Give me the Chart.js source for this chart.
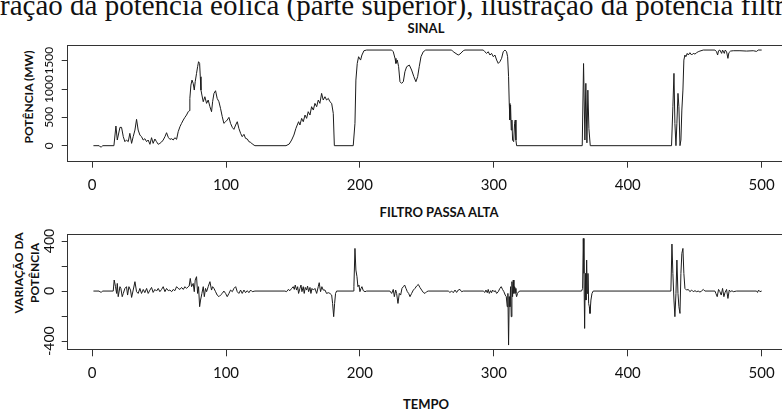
<!DOCTYPE html>
<html>
<head>
<meta charset="utf-8">
<script src="https://cdn.jsdelivr.net/npm/chart.js@4.4.0/dist/chart.umd.min.js"></script>
<style>
  html, body { margin: 0; padding: 0; background: #fff; }
  body { width: 782px; height: 410px; overflow: hidden; position: relative; font-family: Lato, sans-serif; color: #111; }
  .txt { position: absolute; white-space: nowrap; }
  .ttl { font-weight: bold; font-size: 13px; transform: translate(-50%, -50%); }
  .ylab { font-weight: bold; font-size: 12px; transform: translate(-50%, -50%) rotate(-90deg); }
  canvas { position: absolute; left: 0; }
</style>
</head>
<body>
<div class="txt" style="left:0px; top:-9.5px; font-family:'Liberation Serif', serif; font-size:29px; line-height:29px;">ração da potência eólica (parte superior), ilustração da potência filtrada</div>
<div class="txt ttl" style="left:426px; top:28px;">SINAL</div>
<div class="txt ttl" style="left:439px; top:212px;">FILTRO PASSA ALTA</div>
<div class="txt ttl" style="left:426px; top:404px;">TEMPO</div>
<div class="txt ylab" style="left:27.5px; top:97px;">POTÊNCIA (MW)</div>
<div class="txt ylab" style="left:17.5px; top:273px;">VARIAÇÃO DA</div>
<div class="txt ylab" style="left:34px; top:273px;">POTÊNCIA</div>

<canvas id="sinal-chart" width="800" height="205" style="top:0px"></canvas>
<canvas id="filtro-chart" width="800" height="210" style="top:200px"></canvas>

<script>
// Signal (top panel): time / power (MW)
const sinalTempo = [1, 5.3, 6, 7, 8, 16.3, 17.8, 18.8, 20.8, 22, 23.3, 24.5, 25.7, 27, 28.2, 29.5, 30.7, 32, 33.2, 34.4,
  35.7, 36.9, 38.2, 39.4, 40.7, 41.9, 43.2, 44.4, 45.6, 46.9, 48.1, 49.4, 50.6, 51.9, 53.1, 54.4, 55.6, 56.9, 58.1, 59.4,
  60.6, 61.8, 63.1, 64.3, 65.6, 66.8, 68.1, 69.3, 70.5, 71.8, 72.5, 73, 73.8, 74.6, 75.5, 76.3, 77, 78, 78.8, 79.5,
  80.3, 80.8, 81.3, 82, 83, 84.2, 85.5, 86.7, 88, 89.2, 90, 91, 92.2, 93.4, 94.7, 95.9, 97.2, 98.4, 99.7, 100.9,
  102.2, 103.4, 104.7, 105.9, 107.2, 108.4, 109.6, 110.9, 112.1, 113.4, 114.6, 115.9, 117.1, 118.4, 119.6, 121.6,
  144.8, 147.2, 149, 150.7, 152.2, 153.2, 154.2, 155.2, 156.5, 157.7, 159, 160.2, 161.4, 162.7, 163.9, 165.2, 166.4,
  167.7, 168.9, 170.1, 171.4, 172.6, 173.9, 175.1, 176.4, 177.6, 178.9, 180.1, 180.9, 195, 196.3, 197, 198, 199,
  200.5, 201.5, 203, 205, 223.7, 224.9, 226.2, 226.9, 227.9, 228.9, 229.9, 231.1, 232.4, 233.6, 234.9, 236.9, 238.6,
  240.3, 241.8, 243.1, 244.3, 245.6, 247.3, 249.1, 268.5, 269.7, 273.4, 274.7, 277.2, 278.4, 292.1, 293.3, 294.6,
  295.8, 297.1, 298.3, 299.6, 300.8, 302.1, 303.3, 304.5, 305.8, 307, 308.3, 309.5, 310.3, 311, 311.5, 312, 312.5,
  313, 313.5, 314, 314.8, 315.5, 316, 316.5, 317, 366, 367, 368, 368.7, 369.5, 370.2, 371, 372, 432.7, 433.7, 434.5,
  435.2, 436, 436.7, 437.5, 438.2, 439, 439.7, 440.4, 441.2, 441.9, 442.7, 443.4, 444.4, 445.2, 446.4, 447.7, 448.9,
  450.2, 451.4, 452.6, 453.9, 456.4, 465.1, 466.3, 467.1, 467.8, 468.8, 470.1, 470.8, 472.1, 472.8, 473.8, 474.8,
  475.5, 476.8, 478.8, 483.8, 488.7, 493.7, 496.2, 497.4, 500];
const sinalPotencia = [0, 0, -20, -20, 0, 0, 347, 100, 323, 323, 159, 71, 100, 71, 218, 41, 159, 276, 465, 276,
  188, 159, 100, 123, 71, 100, 24, 141, 41, 118, 71, 24, 41, 65, 100, 159, 229, 147, 112, 123,
  100, 141, 112, 247, 335, 394, 453, 500, 541, 600, 617, 835, 1070, 1158, 1100, 982, 1129, 1276, 1394, 1482,
  1452, 1217, 982, 894, 776, 864, 747, 806, 688, 600, 776, 923, 970, 835, 776, 659, 512, 394, 423, 453,
  500, 394, 323, 288, 365, 423, 306, 218, 159, 200, 129, 118, 71, 60, 30, 0,
  0, 29, 100, 188, 306, 365, 423, 365, 482, 423, 541, 482, 600, 541, 688, 629, 747,
  688, 806, 747, 923, 806, 864, 806, 835, 776, 747, 570, 0, 0, 394, 1158, 1452, 1570,
  1511, 1600, 1676, 1688, 1688, 1658, 1541, 1452, 1511, 1394, 1129, 1100, 1129, 1305, 1394, 1423, 1335,
  1217, 1129, 1217, 1394, 1570, 1658, 1688, 1688, 1658, 1600, 1617, 1676, 1688, 1688, 1658, 1629,
  1658, 1600, 1629, 1570, 1600, 1511, 1452, 1482, 1541, 1658, 1688, 1658, 1570, 1217, 747, 453, 717,
  276, 453, 100, 71, 394, 453, 100, 0, 0, 1450, 100, 1100, 50, 980, 300, 0, 0, 688, 1276,
  394, 0, 394, 923, 688, 0, 100, 629, 982, 1511, 1600, 1570, 1629, 1600, 1641, 1600, 1629,
  1617, 1641, 1658, 1670, 1688, 1688, 1658, 1600, 1676, 1688, 1629, 1688, 1629, 1688, 1658, 1541,
  1641, 1670, 1676, 1676, 1670, 1676, 1664, 1688, 1688];

// High-pass filter (bottom panel): time / power variation
const filtroTempo = [1, 5.3, 6, 7, 8, 15.8, 16.5, 17.5, 18.3, 18.8, 19.5, 20.8, 21.5, 22.5, 23.3, 24.5, 25.7, 26.5,
  27.5, 28.7, 29.5, 30.7, 32, 33.2, 34.4, 35.7, 36.9, 38.2, 39.4, 40.7, 41.9, 43.2, 44.4, 45.6, 46.9, 48.1, 49.4,
  50.6, 51.9, 53.1, 54.4, 55.6, 56.9, 58.1, 59.4, 60.6, 61.8, 63.1, 64.3, 65.6, 66.8, 68.1, 69.3, 70.5, 71.8, 72.5,
  73.3, 74.3, 75.5, 76.3, 77, 78, 78.8, 79.5, 80.3, 81, 82, 83, 83.8, 84.7, 85.5, 86.7, 88, 89.2, 90, 91, 92.2, 93.4,
  94.7, 95.9, 97.2, 98.4, 99.7, 100.9, 102.2, 103.4, 104.7, 105.9, 107.2, 108.4, 109.6, 110.9, 112.1, 113.4, 114.6,
  115.9, 117.1, 118.4, 119.6, 121.6, 144, 145.2, 146.5, 147.7, 149, 150.2, 151, 151.7, 152.7, 153.5, 154.2, 155.2,
  156, 156.7, 157.7, 158.4, 159.2, 160.2, 160.9, 161.7, 162.7, 163.4, 164.2, 165.2, 166.4, 167.7, 168.9, 169.6,
  170.6, 171.6, 172.6, 173.9, 175.1, 176.4, 177.6, 178.9, 179.6, 180.4, 181.1, 181.8, 182.6, 195, 195.5, 196.3, 197,
  197.8, 198.5, 199.3, 200, 200.8, 201.5, 202.5, 203.8, 205, 222.4, 223.7, 224.9, 225.7, 226.7, 227.4, 228.4, 229.4,
  230.4, 231.4, 232.4, 233.4, 234.4, 235.4, 236.4, 237.4, 238.6, 239.9, 241.1, 242.3, 243.6, 244.8, 246.1, 247.3,
  248.6, 249.8, 251, 266, 267.2, 268.5, 269.7, 271, 272.2, 273.4, 274.7, 275.9, 277.2, 292.1, 293.3, 294.1, 295.1,
  295.8, 296.6, 297.6, 298.3, 299.1, 300.1, 301.1, 302.1, 303.3, 304.5, 305.5, 306.5, 307.5, 308.5, 309.3, 310,
  310.5, 311, 311.5, 312, 312.5, 313, 313.5, 314, 314.5, 315, 315.5, 316, 316.5, 317, 317.7, 318.5, 319.5, 365.5,
  366.3, 366.8, 367.3, 367.8, 368.3, 368.8, 369.3, 369.8, 370.3, 370.8, 371.3, 371.8, 372.5, 373.3, 374.2, 432.2,
  433, 433.7, 434.5, 435.2, 436, 436.7, 437.5, 438.2, 439, 439.7, 440.4, 441.2, 441.9, 442.7, 443.9, 445.2, 446.4,
  447.7, 448.9, 450.2, 451.4, 452.6, 453.9, 455.1, 456.4, 457.6, 465.1, 465.8, 466.8, 467.8, 468.8, 469.8, 470.8,
  471.8, 472.6, 473.8, 474.8, 475.8, 476.8, 477.8, 478.8, 481.3, 496.2, 496.9, 497.7, 498.7, 500];
const filtroVariacao = [0, 0, -8, -8, 0, 0, 88, 35, -19, 61, -45, 35, 21, -45, -19, 21, 35, -32,
  35, 8, -51, 8, 75, -5, -19, 21, -19, 13, -13, 21, -19, 8, 29, -11, 13, 0, 21,
  -5, 13, 35, -5, 21, 3, 8, -5, 13, 3, 35, 21, 13, 29, 13, 35, 21, 35, 40,
  101, 35, 61, -5, 88, 115, -19, 35, -125, -72, -19, 35, -45, 21, -5, 35, 75, 8, 35, 21, -5, -32,
  -45, -32, -19, 0, -19, -45, -19, 8, -5, 21, 35, -5, -19, 8, -19, 8, -13,
  3, -13, 8, -5, 0, 0, -5, 13, 3, 21, 35, 13, 48, 8, 35, -19, 21,
  48, -5, 35, -19, 29, 8, 40, -5, 29, -19, 21, 8, 21, -19, 35, 67,
  -5, 35, 8, 8, -19, -13, -19, -32, -99, -205, -99, -19, 0, 0, 35, 341, 168,
  115, 35, 48, -5, 21, 35, 3, -5, 0, 0, -19, 13, -45, 8, -19, -99, -19,
  -32, 21, 35, 48, 21, -5, -19, -45, -19, 8, 21, 40, 53, 29, 8, -11,
  -19, -5, 0, 0, -11, 0, -13, 8, -11, 8, 13, -5, 0, 0, -11, 8, -13,
  13, -19, 3, -13, 8, -5, 3, -19, -5, 21, 35, 13, -5, -32, -45, -125,
  -19, -432, -45, -125, 35, -205, 75, -45, 88, -19, 35, 21, -19, -45, -19, -5, 0, 0,
  21, 421, 141, -299, 141, -72, 248, -19, 141, -99, -125, -179, -72, -19, 0, 0,
  376, 141, -72, -205, -19, 248, -19, -125, -179, 141, 301, 341, 141, 21, 8, 13, -5,
  8, -5, 3, -5, 0, -8, 0, 13, 0, 0, -19, -45, 13, -5, -32, 21,
  -45, -13, 13, -59, 8, -5, 3, -5, 0, 0, -11, 8, -5, 0];

// Axes
const xTicks = [0, 100, 200, 300, 400, 500];
const sinalYTicks = [0, 500, 1000, 1500];
const sinalYLabels = ['0', '500', '1000', '1500'];
const filtroYTicks = [-400, -200, 0, 200, 400];
const filtroYLabels = ['-400', '', '0', '', '400'];

const X_MIN = -18.96;
const X_MAX = 519.96;
const FRAME = '#333';
const LINE = '#1c1c1c';

// draws the R-style box around the plot region
const framePlugin = {
    id: 'frame',
    afterDraw(chart) {
        const a = chart.chartArea;
        const ctx = chart.ctx;
        ctx.save();
        ctx.strokeStyle = FRAME;
        ctx.lineWidth = 1;
        ctx.strokeRect(Math.round(a.left) + 0.5, Math.round(a.top) + 0.5,
            Math.round(a.right - a.left), Math.round(a.bottom - a.top));
        ctx.restore();
    }
};

function makeChart(id, xs, ys, cfg) {
    const points = xs.map((x, i) => ({ x: x, y: ys[i] }));
    const ctx = document.getElementById(id).getContext('2d');

    return new Chart(ctx, {
        type: 'line',
        data: {
            datasets: [{
                data: points,
                borderColor: LINE,
                borderWidth: 1,
                pointRadius: 0,
                tension: 0,
                fill: false,
            }]
        },
        options: {
            responsive: false,
            animation: false,
            layout: { padding: { top: cfg.padTop, right: 11.6, left: 0, bottom: 0 } },
            plugins: {
                legend: { display: false },
                tooltip: { enabled: false },
            },
            scales: {
                x: {
                    type: 'linear',
                    min: X_MIN,
                    max: X_MAX,
                    afterBuildTicks: s => { s.ticks = xTicks.map(v => ({ value: v })); },
                    afterFit: s => { s.height = cfg.xHeight; },
                    grid: { drawOnChartArea: false, drawTicks: true, tickLength: 7, color: FRAME },
                    border: { display: false },
                    ticks: {
                        font: { family: 'Lato', size: 15 },
                        color: '#111',
                        padding: 8,
                        maxRotation: 0,
                        autoSkip: false,
                    },
                },
                y: {
                    type: 'linear',
                    min: cfg.yMin,
                    max: cfg.yMax,
                    afterBuildTicks: s => { s.ticks = cfg.yTicks.map(v => ({ value: v })); },
                    afterFit: s => { s.width = 66.7; },
                    grid: { drawOnChartArea: false, drawTicks: true, tickLength: 5, color: FRAME },
                    border: { display: false },
                    ticks: {
                        callback: (v, i) => cfg.yLabels[i],
                        font: { family: 'Lato', size: cfg.yFont },
                        color: '#111',
                        minRotation: 90,
                        maxRotation: 90,
                        crossAlign: 'center',
                        padding: cfg.yPad,
                        autoSkip: false,
                    },
                },
            },
        },
        plugins: [framePlugin],
    });
}

window.addEventListener('load', () => {
    makeChart('sinal-chart', sinalTempo, sinalPotencia, {
        padTop: 45, xHeight: 205 - 160.7, yMin: -265, yMax: 1777,
        yTicks: sinalYTicks, yLabels: sinalYLabels, yFont: 12, yPad: -1,
    });
    makeChart('filtro-chart', filtroTempo, filtroVariacao, {
        padTop: 34.3, xHeight: 210 - 149.3, yMin: -466, yMax: 454,
        yTicks: filtroYTicks, yLabels: filtroYLabels, yFont: 14, yPad: -3,
    });
});
</script>
</body>
</html>
